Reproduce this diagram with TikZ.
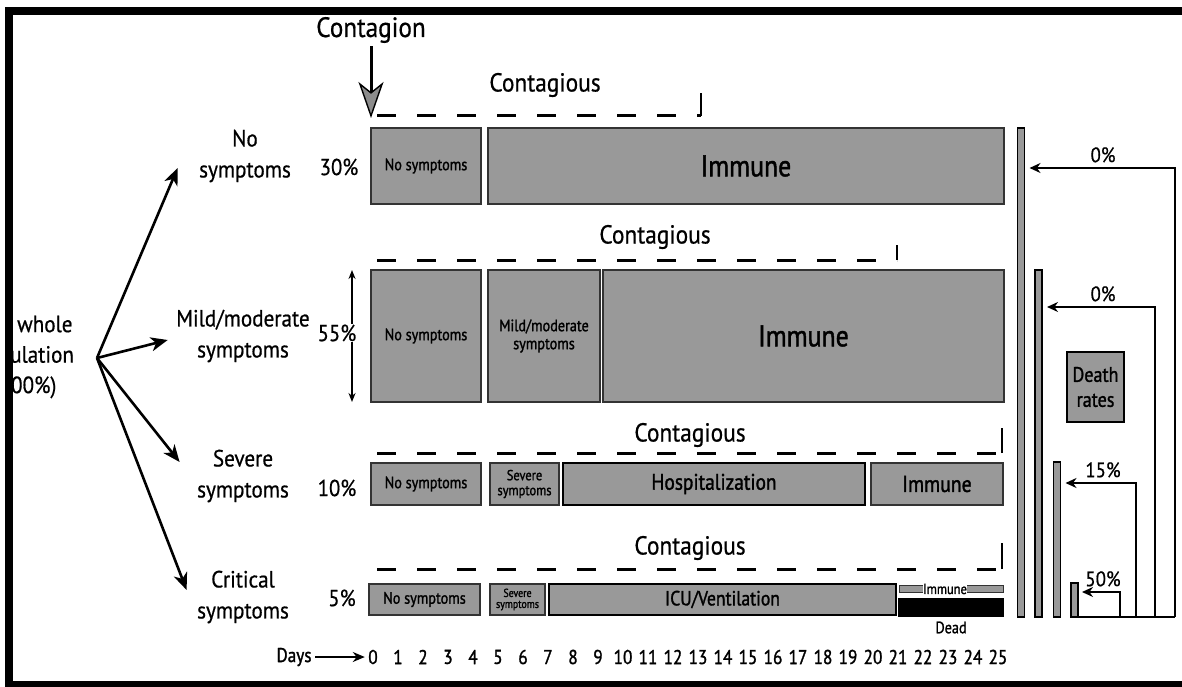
\documentclass[tikz,border=0pt]{standalone}
\usepackage{fontspec}
\setmainfont{PT Sans}[FakeStretch=0.9, FakeBold=0.6]
\newfontfamily\boxfont{PT Sans}[FakeStretch=0.86, FakeBold=1.4]
\usetikzlibrary{positioning}
\usetikzlibrary{arrows.meta}

\begin{document}
\begin{tikzpicture}[x=1pt, y=-1pt,
	phase/.style={rectangle, draw=black!80, line width=1.6pt, fill=black!40, inner sep=0pt, outer sep=0pt, align=center},
	catfont/.style={align=center, font=\fontsize{23.5}{31}\selectfont},
	pctfont/.style={font=\fontsize{23}{24}\selectfont},
	contfont/.style={font=\fontsize{26}{28}\selectfont},
	dayfont/.style={font=\boxfont\fontsize{20}{20}\selectfont},
	ratefont/.style={font=\fontsize{21}{22}\selectfont},
	contag/.style={line width=3pt, dash pattern=on 19pt off 21pt},
	tick/.style={line width=2pt},
	branch/.style={line width=2.6pt, -{Stealth[length=17pt,width=14pt,inset=5pt]}},
	rate/.style={line width=1.8pt, -{Stealth[length=11pt,width=10pt]}},
	bar/.style={rectangle, draw=black, line width=1.6pt, fill=black!40, inner sep=0pt, outer sep=0pt, minimum width=7pt}]

	\useasboundingbox (0,0) rectangle (1182,687);
	\clip (0,0) rectangle (1182,687);

	% left side: the whole population and its four groups
	\begin{scope}
		\clip (13,15) rectangle (1182,681);
		\node[catfont, font=\fontsize{23.5}{30.5}\selectfont](root) at (25,357){The whole\\population\\(100\%)};
	\end{scope}
	\coordinate (fork) at (97,358);

	\node[catfont](nosym)    at (245,156){No\\symptoms};
	\node[catfont](mild)     at (243,336){Mild/moderate\\symptoms};
	\node[catfont](severe)   at (243,476){Severe\\symptoms};
	\node[catfont](critical) at (243,597){Critical\\symptoms};

	\draw[branch] (fork) -- ([shift={(-18,12)}]nosym.west);
	\draw[branch] (fork) -- ([shift={(-5,4)}]mild.west);
	\draw[branch] (fork) -- ([shift={(-14,-14)}]severe.west);
	\draw[branch] (fork) -- ([shift={(-7,-7)}]critical.west);

	% row 1: no symptoms
	\node[phase, minimum width=110pt, minimum height=76pt, font=\boxfont\fontsize{16.5}{17}\selectfont](r1none) at (426,166){No symptoms};
	\node[phase, minimum width=516pt, minimum height=76pt, font=\boxfont\fontsize{30}{30}\selectfont](r1imm)  at (746,166){Immune};

	% row 2: mild/moderate symptoms
	\node[phase, minimum width=110pt, minimum height=132pt, font=\boxfont\fontsize{16.5}{17}\selectfont](r2none) at (426,336){No symptoms};
	\node[phase, minimum width=112pt, minimum height=132pt, font=\boxfont\fontsize{16.5}{18}\selectfont](r2mild) at (544,336){Mild/moderate\\symptoms};
	\node[phase, minimum width=401pt, minimum height=132pt, font=\boxfont\fontsize{30}{30}\selectfont](r2imm)  at (803.5,336){Immune};

	% row 3: severe symptoms
	\node[phase, minimum width=110pt, minimum height=42pt, font=\boxfont\fontsize{16.5}{17}\selectfont](r3none) at (426,484){No symptoms};
	\node[phase, minimum width=69pt,  minimum height=42pt, font=\boxfont\fontsize{14.5}{15}\selectfont](r3sev)  at (524.5,484){Severe\\symptoms};
	\node[phase, draw=black, line width=2.4pt, minimum width=302pt, minimum height=42pt, font=\boxfont\fontsize{22.5}{22}\selectfont](r3hosp) at (714,484){Hospitalization};
	\node[phase, minimum width=132pt, minimum height=42pt, font=\boxfont\fontsize{23}{22}\selectfont](r3imm)  at (937,484){Immune};

	% row 4: critical symptoms
	\node[phase, minimum width=111pt, minimum height=31pt, font=\boxfont\fontsize{16.5}{17}\selectfont](r4none) at (424.5,599.5){No symptoms};
	\node[phase, minimum width=55pt,  minimum height=31pt, font=\boxfont\fontsize{11.5}{11}\selectfont](r4sev)  at (517.5,599.5){Severe\\symptoms};
	\node[phase, draw=black, line width=2.4pt, minimum width=347pt, minimum height=31pt, font=\boxfont\fontsize{20.5}{22}\selectfont](r4icu) at (722.5,599.5){ICU/Ventilation};
	\node[phase, line width=1pt, minimum width=104pt, minimum height=7pt](r4imm) at (951,589){};
	\node[fill=white, inner sep=0.5pt, font=\boxfont\fontsize{14.5}{14}\selectfont](r4immtxt) at (945,589){Immune};
	\node[phase, fill=black, draw=black, minimum width=104pt, minimum height=17pt](r4dead) at (951,607.5){};
	\node[font=\boxfont\fontsize{16.5}{16}\selectfont, below=2pt of r4dead](dead){Dead};

	% percentages
	\node[pctfont](p30) at (339,167){30\%};
	\draw[line width=1.8pt, {Stealth[length=9pt,width=7pt]}-{Stealth[length=9pt,width=7pt]}] ([xshift=-19pt]r2none.north west) -- ([xshift=-19pt]r2none.south west);
	\node[pctfont, fill=white, inner sep=1pt](p55) at (337,333){55\%};
	\node[pctfont](p10) at (337,488){10\%};
	\node[pctfont](p5)  at (342,598){5\%};

	% contagion and contagious periods
	\node[font=\fontsize{28}{28}\selectfont](contagion) at (371,30){Contagion};
	\draw[line width=3pt, -{Stealth[length=36pt,width=25pt,inset=10pt,fill=black!45,line width=1.4pt]}] (contagion.south) -- ([yshift=10pt]r1none.north west);

	\coordinate (c1a) at (377,116);  \coordinate (c1b) at (701,116);  \coordinate (c1c) at (701,93);
	\coordinate (c2a) at (377,260);  \coordinate (c2b) at (897,260);  \coordinate (c2c) at (897,245);
	\coordinate (c3a) at (377,453);  \coordinate (c3b) at (1002,453); \coordinate (c3c) at (1002,428);
	\coordinate (c4a) at (377,569);  \coordinate (c4b) at (1002,569); \coordinate (c4c) at (1002,543);
	\draw[contag] (c1a) -- (c1b); \draw[tick] (c1b) -- (c1c);
	\draw[contag] (c2a) -- (c2b); \draw[tick] (c2b) -- (c2c);
	\draw[contag] (c3a) -- (c3b); \draw[tick] (c3b) -- (c3c);
	\draw[contag] (c4a) -- (c4b); \draw[tick] (c4b) -- (c4c);
	\node[contfont](cont1) at (545,85){Contagious};
	\node[contfont](cont2) at (655,237){Contagious};
	\node[contfont](cont3) at (690,435){Contagious};
	\node[contfont](cont4) at (690,548){Contagious};

	% days axis
	\node[dayfont](days) at (294,657){Days};
	\foreach \d in {0,...,25}{
		\node[dayfont](day\d) at (373+25*\d,657){\d};
	}
	\draw[line width=1.8pt, -{Stealth[length=12pt,width=10pt]}] (days) -- (day0);

	% death rates
	\node[bar, minimum height=489pt](bar1) at (1021,372.5){};
	\node[bar, minimum height=347pt](bar2) at (1038.5,443.5){};
	\node[bar, minimum height=155pt](bar3) at (1057,539.5){};
	\node[bar, minimum height=34pt](bar4)  at (1074.5,600){};
	\node[phase, draw=black, minimum width=57pt, minimum height=70pt, font=\boxfont\fontsize{21}{25}\selectfont](deathbox) at (1095.5,387){Death\\rates};

	\coordinate (v1) at (1175,617); \coordinate (h1) at (1103,168);
	\coordinate (v2) at (1155,617); \coordinate (h2) at (1103,307);
	\coordinate (v3) at (1136,617); \coordinate (h3) at (1103,483);
	\coordinate (v4) at (1120,617); \coordinate (h4) at (1103,592);
	\draw[line width=1.8pt] (bar4.south west) -- (v1);
	\draw[rate, shorten >=5pt] (v1) |- (bar1.east |- h1);
	\draw[rate, shorten >=5pt] (v2) |- (bar2.east |- h2);
	\draw[rate, shorten >=5pt] (v3) |- (bar3.east |- h3);
	\draw[rate, shorten >=4pt] (v4) |- (bar4.east |- h4);
	\node[ratefont, above=2pt of h1](rate1){0\%};
	\node[ratefont, above=2pt of h2](rate2){0\%};
	\node[ratefont, above=2pt of h3](rate3){15\%};
	\node[ratefont, above=2pt of h4](rate4){50\%};

	% frame
	\draw[line width=8pt] (9,11.5) rectangle (1300,685);
\end{tikzpicture}
\end{document}
